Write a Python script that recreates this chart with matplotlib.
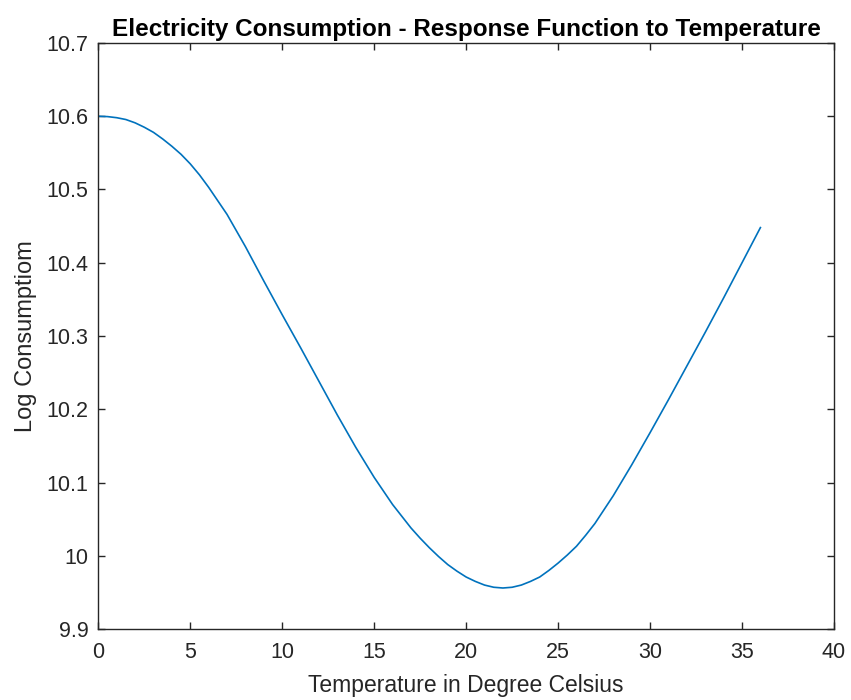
import matplotlib.pyplot as plt

# temperature (deg C) and fitted log consumption
# (extra half-degree readings where the curve bends most)
temperature = [0, 0.5, 1, 1.5, 2, 2.5, 3, 3.5, 4, 4.5, 5, 5.5, 6, 7, 8, 9, 10,
               11, 12, 13, 14, 15, 16, 17, 17.5, 18, 18.5, 19, 19.5, 20, 20.5,
               21, 21.5, 22, 22.5, 23, 23.5, 24, 24.5, 25, 25.5, 26, 26.5, 27,
               28, 29, 30, 31, 32, 33, 34, 35, 36]
log_consumption = [10.600, 10.5995, 10.598, 10.5955, 10.591, 10.585, 10.578,
                   10.569, 10.559, 10.548, 10.535, 10.520, 10.503, 10.466,
                   10.422, 10.375, 10.329, 10.284, 10.238, 10.192, 10.148,
                   10.107, 10.070, 10.038, 10.024, 10.011, 9.999, 9.988, 9.979,
                   9.971, 9.965, 9.960, 9.957, 9.956, 9.957, 9.960, 9.965,
                   9.971, 9.980, 9.990, 10.001, 10.013, 10.028, 10.044, 10.082,
                   10.124, 10.168, 10.213, 10.259, 10.305, 10.352, 10.400, 10.448]

xticks = [0, 5, 10, 15, 20, 25, 30, 35, 40]
yticks = [9.9, 10.0, 10.1, 10.2, 10.3, 10.4, 10.5, 10.6, 10.7]

plt.rcParams['font.family'] = ['Liberation Sans', 'DejaVu Sans']
dark = '#262626'

fig = plt.figure(figsize=(8.51, 7.0), dpi=100)
ax = fig.add_axes([0.1155, 0.1014, 0.8645, 0.8372])
ax.plot(temperature, log_consumption, color='#0072BD', linewidth=1.2)

ax.set_xlim(0, 40)
ax.set_ylim(9.9, 10.7)
ax.set_xticks(xticks)
ax.set_yticks(yticks)
ax.set_yticklabels(['%g' % v for v in yticks])
ax.tick_params(direction='in', top=True, right=True, length=5, width=1,
               colors=dark, labelsize=15.5)
ax.tick_params(axis='x', pad=9)
ax.tick_params(axis='y', pad=7)
for s in ax.spines.values():
    s.set_color(dark)
    s.set_linewidth(1)

ax.set_title('Electricity Consumption - Response Function to Temperature',
             fontsize=17.5, fontweight='bold', color='black', pad=5)
ax.set_xlabel('Temperature in Degree Celsius', fontsize=16.5, color=dark, labelpad=8)
ax.set_ylabel('Log Consumptiom', fontsize=17, color=dark, labelpad=7)

fig.savefig('out.png', dpi=100)
